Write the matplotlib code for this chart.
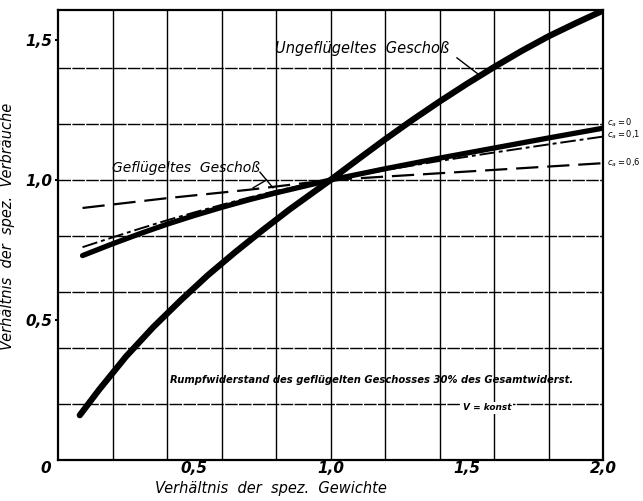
import matplotlib
matplotlib.use("Agg")
import matplotlib.pyplot as plt
import numpy as np

# Verhältnis der spez. Gewichte (x) gegen Verhältnis der spez. Verbräuche (y)
ungefl_x = [0.08, 0.15, 0.25, 0.35, 0.45, 0.55, 0.65, 0.75, 0.85, 1.00,
            1.10, 1.20, 1.30, 1.40, 1.50, 1.60, 1.70, 1.80, 1.90, 2.00]
ungefl_y = [0.16, 0.25, 0.37, 0.475, 0.57, 0.66, 0.742, 0.82, 0.895, 1.00,
            1.073, 1.145, 1.214, 1.28, 1.343, 1.403, 1.46, 1.513, 1.56, 1.605]

gefl_x = [0.09, 0.20, 0.30, 0.40, 0.50, 0.60, 0.70, 0.80, 0.90, 1.00,
          1.20, 1.40, 1.60, 1.80, 2.00]
gefl_ca0_y = [0.73, 0.772, 0.808, 0.842, 0.873, 0.902, 0.929, 0.954, 0.977, 1.00,
              1.04, 1.078, 1.114, 1.15, 1.185]
gefl_ca01_y = [0.76, 0.795, 0.826, 0.856, 0.884, 0.911, 0.937, 0.961, 0.981, 1.00,
               1.035, 1.068, 1.098, 1.127, 1.155]

gefl_ca06_x = [0.09, 0.40, 0.70, 1.00, 1.50, 2.00]
gefl_ca06_y = [0.90, 0.935, 0.965, 1.00, 1.03, 1.06]

ca_labels = ["$c_a = 0$", "$c_a = 0{,}1$", "$c_a = 0{,}6$"]
ca_label_y = [1.205, 1.16, 1.06]

x_ticks = [0.5, 1.0, 1.5, 2.0]
x_ticklabels = ["0,5", "1,0", "1,5", "2,0"]
y_ticks = [0.5, 1.0, 1.5]
y_ticklabels = ["0,5", "1,0", "1,5"]
grid_x = np.arange(0.2, 2.0, 0.2)
grid_y = np.arange(0.2, 1.6, 0.2)

fig = plt.figure(figsize=(6.43, 5.01), dpi=100)
ax = fig.add_axes([58 / 643, 1 - 460 / 501, 545 / 643, 450 / 501])
ax.set_xlim(0, 2.0)
ax.set_ylim(0, 1.607)

for gx in grid_x:
    ax.axvline(gx, color="black", lw=1.0, zorder=1)
for gy in grid_y:
    ax.axhline(gy, color="black", lw=1.0, zorder=1, dashes=(9, 1))

for s in ax.spines.values():
    s.set_linewidth(1.6)

ax.plot(ungefl_x, ungefl_y, color="black", lw=4.5, solid_capstyle="round",
        solid_joinstyle="round", zorder=3)
ax.plot(gefl_x, gefl_ca0_y, color="black", lw=3.8, solid_capstyle="round",
        solid_joinstyle="round", zorder=3)
ax.plot(gefl_x, gefl_ca01_y, color="black", lw=1.4, dashes=(8, 2, 2, 2), zorder=3)
ax.plot(gefl_ca06_x, gefl_ca06_y, color="black", lw=1.6, dashes=(10, 4), zorder=3)

for lab, ly in zip(ca_labels, ca_label_y):
    ax.text(2.015, ly, lab, fontsize=6, fontweight="bold", va="center", ha="left",
            clip_on=False)

ax.text(1.116, 1.47, "Ungeflügeltes  Geschoß", fontsize=10.5, style="italic",
        ha="center", va="center", zorder=4)
ax.plot([1.464, 1.55], [1.436, 1.372], color="black", lw=1.0, zorder=4)

ax.text(0.47, 1.043, "Geflügeltes  Geschoß", fontsize=10, style="italic",
        ha="center", va="center", zorder=4)
ax.plot([0.741, 0.789], [1.028, 0.972], color="black", lw=1.0, zorder=4)
ax.plot([0.765, 0.716], [1.000, 0.972], color="black", lw=1.0, zorder=4)

ax.text(1.149, 0.286,
        "Rumpfwiderstand des geflügelten Geschosses 30% des Gesamtwiderst.",
        fontsize=7.2, fontweight="bold", style="italic", ha="center", va="center",
        zorder=4)
ax.text(1.574, 0.186, "V = konst", fontsize=6.5, fontweight="bold", style="italic",
        ha="center", va="center", zorder=4,
        bbox=dict(facecolor="white", edgecolor="none", pad=1))

ax.set_xticks(x_ticks)
ax.set_xticklabels(x_ticklabels, fontsize=11, fontweight="bold", style="italic")
ax.set_yticks(y_ticks)
ax.set_yticklabels(y_ticklabels, fontsize=11, fontweight="bold", style="italic")
ax.tick_params(axis="x", length=0, pad=1)
ax.tick_params(axis="y", length=2, width=1.5, pad=2)
ax.text(-0.025, -0.005, "0", fontsize=11, fontweight="bold", style="italic",
        ha="right", va="top", clip_on=False)

ax.set_xlabel("Verhältnis  der  spez.  Gewichte", fontsize=10.5, style="italic")
ax.xaxis.set_label_coords(0.39, -0.047)
ax.set_ylabel("Verhältnis  der  spez.  Verbräuche", fontsize=10.5, style="italic")
ax.yaxis.set_label_coords(-0.079, 0.52)

fig.savefig("out.png", dpi=100)
